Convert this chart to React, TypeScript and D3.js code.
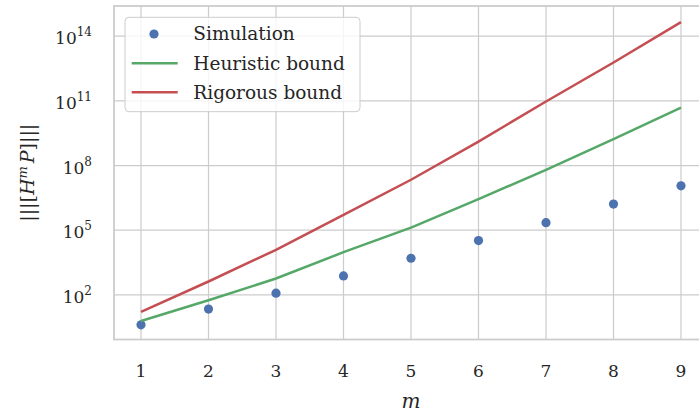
import React from "react";
import * as d3 from "d3";

const mValues = [1, 2, 3, 4, 5, 6, 7, 8, 9];
// log10 values
const simulationLog = [0.61, 1.34, 2.08, 2.88, 3.7, 4.52, 5.35, 6.21, 7.06];
const heuristicLog = [0.79, 1.75, 2.76, 3.98, 5.12, 6.44, 7.8, 9.22, 10.69];
const rigorousLog = [1.21, 2.62, 4.09, 5.71, 7.34, 9.11, 10.97, 12.78, 14.65];
const yTickExponents = [2, 5, 8, 11, 14];
const legendLabels = ["Simulation", "Heuristic bound", "Rigorous bound"];

const W = 699;
const H = 413;
const left = 114;
const right = 708;
const top = 6;
const bottom = 339.5;

const BLUE = "#4C72B0";
const GREEN = "#55A868";
const RED = "#C44E52";
const GRID = "#cccccc";
const TEXT = "#262626";
const FONT = "'DejaVu Serif', serif";

export default function App() {
  const x = d3.scaleLinear().domain([0.6, 9.4]).range([left, right]);
  const y = d3.scaleLog().domain([Math.pow(10, -0.07), Math.pow(10, 15.4)]).range([bottom, top]);

  const toPts = (arr: number[]) => arr.map((v, i) => [mValues[i], Math.pow(10, v)] as [number, number]);
  const line = d3
    .line<[number, number]>()
    .x((d) => x(d[0]))
    .y((d) => y(d[1]));

  const sim = toPts(simulationLog);
  const heur = toPts(heuristicLog);
  const rig = toPts(rigorousLog);

  return (
    <svg
      width={W}
      height={H}
      style={{ position: "fixed", left: 0, top: 0, background: "#fff" }}
      fontFamily={FONT}
    >
      <rect x={0} y={0} width={W} height={H} fill="#fff" />
      {/* grid */}
      {mValues.map((m) => (
        <line key={"gx" + m} x1={x(m)} x2={x(m)} y1={top} y2={bottom} stroke={GRID} strokeWidth={1.2} />
      ))}
      {yTickExponents.map((e) => (
        <line
          key={"gy" + e}
          x1={left}
          x2={right}
          y1={y(Math.pow(10, e))}
          y2={y(Math.pow(10, e))}
          stroke={GRID}
          strokeWidth={1.2}
        />
      ))}
      {/* spines */}
      <rect x={left} y={top} width={right - left} height={bottom - top} fill="none" stroke={GRID} strokeWidth={1.8} />

      {/* data */}
      {sim.map((d, i) => (
        <circle key={"s" + i} cx={x(d[0])} cy={y(d[1])} r={4.6} fill={BLUE} />
      ))}
      <path d={line(heur) || ""} fill="none" stroke={GREEN} strokeWidth={2.5} />
      <path d={line(rig) || ""} fill="none" stroke={RED} strokeWidth={2.5} />

      {/* x tick labels */}
      {mValues.map((m) => (
        <text key={"tx" + m} x={x(m)} y={377} textAnchor="middle" fontSize={17} fill={TEXT}>
          {m}
        </text>
      ))}
      {/* y tick labels */}
      {yTickExponents.map((e) => (
        <text key={"ty" + e} x={92} y={y(Math.pow(10, e)) + 8} textAnchor="end" fontSize={17} fill={TEXT}>
          10
          <tspan fontSize={12} dy={-8}>
            {e}
          </tspan>
        </text>
      ))}

      {/* axis labels */}
      <text x={(left + right) / 2} y={408} textAnchor="middle" fontSize={20} fontStyle="italic" fill={TEXT}>
        m
      </text>
      <text
        transform={`translate(34, ${(top + bottom) / 2}) rotate(-90)`}
        textAnchor="middle"
        fontSize={19}
        fill={TEXT}
      >
        |||[<tspan fontStyle="italic">H</tspan>
        <tspan fontStyle="italic" fontSize={13} dy={-7}>
          m
        </tspan>
        <tspan fontStyle="italic" dy={7} dx={3}>
          P
        </tspan>
        ]|||
      </text>

      {/* legend */}
      <rect x={125} y={17.3} width={235} height={94.4} rx={4} fill="#fff" fillOpacity={0.8} stroke={GRID} strokeWidth={1} />
      <circle cx={154} cy={34} r={4.6} fill={BLUE} />
      <line x1={131.7} x2={177.7} y1={63.3} y2={63.3} stroke={GREEN} strokeWidth={2.5} />
      <line x1={131.7} x2={177.7} y1={92.3} y2={92.3} stroke={RED} strokeWidth={2.5} />
      {legendLabels.map((t, i) => (
        <text key={t} x={193.3} y={40 + i * 29.5} fontSize={18.5} fill={TEXT}>
          {t}
        </text>
      ))}
    </svg>
  );
}
